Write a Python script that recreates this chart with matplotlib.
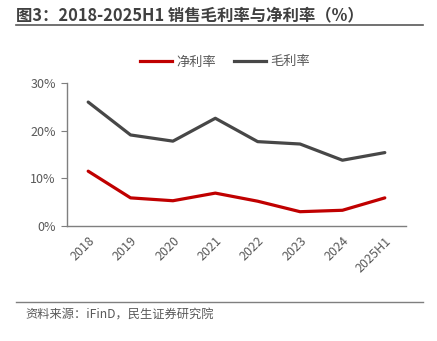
import matplotlib
matplotlib.use("Agg")
import matplotlib.pyplot as plt
from matplotlib.lines import Line2D

plt.rcParams['font.family'] = ['Noto Sans CJK SC', 'DejaVu Sans']

categories = ["2018", "2019", "2020", "2021", "2022", "2023", "2024", "2025H1"]
net_margin = [11.5, 5.9, 5.3, 6.9, 5.2, 3.0, 3.3, 5.9]
gross_margin = [26.0, 19.1, 17.8, 22.6, 17.7, 17.2, 13.8, 15.4]
yticks = [0, 10, 20, 30]
ytick_labels = ["0%", "10%", "20%", "30%"]

W, H = 437, 341
fig = plt.figure(figsize=(W / 100, H / 100), dpi=100)
ax = fig.add_axes([67 / W, 1 - 226 / H, (406 - 67) / W, (226 - 83) / H])

red = "#C00000"
gray = "#474747"
axis_c = "#7F7F7F"
text_c = "#595959"

x = list(range(len(categories)))
ax.plot(x, net_margin, color=red, lw=2.3, solid_capstyle='round', label="净利率")
ax.plot(x, gross_margin, color=gray, lw=2.3, solid_capstyle='round', label="毛利率")

ax.set_xlim(-0.5, len(categories) - 0.5)
ax.set_ylim(0, 30)
ax.set_yticks(yticks)
ax.set_yticklabels(ytick_labels)
ax.set_xticks(x)
ax.set_xticklabels(categories, rotation=45, ha='right', va='top', rotation_mode='anchor')

for s in ['top', 'right']:
    ax.spines[s].set_visible(False)
for s in ['left', 'bottom']:
    ax.spines[s].set_color(axis_c)
    ax.spines[s].set_linewidth(1.0)
ax.tick_params(axis='y', direction='out', length=4, color=axis_c, labelcolor=text_c, labelsize=9, pad=4)
ax.tick_params(axis='x', length=0, labelcolor=text_c, labelsize=9, pad=6)

handles = [Line2D([], [], color=red, lw=2.3), Line2D([], [], color=gray, lw=2.3)]
fig.legend(handles, ["净利率", "毛利率"], loc='center', bbox_to_anchor=(225 / W, 1 - 62 / H),
           ncol=2, frameon=False, fontsize=9.5, handlelength=2.4, handletextpad=0.3,
           columnspacing=1.4, labelcolor=text_c)

fig.text(16 / W, 1 - 15 / H, "图3：2018-2025H1 销售毛利率与净利率（%）", fontsize=11.8,
         fontweight='bold', color="#404040", ha='left', va='center')
fig.add_artist(Line2D([16 / W, 423 / W], [1 - 24.5 / H, 1 - 24.5 / H], color="#595959", lw=1.2))
fig.add_artist(Line2D([16 / W, 423 / W], [1 - 302 / H, 1 - 302 / H], color="#7F7F7F", lw=1.0))
fig.text(25 / W, 1 - 315 / H, "资料来源：iFinD，民生证券研究院", fontsize=8.8,
         color=text_c, ha='left', va='center')

fig.savefig("out.png", dpi=100)
